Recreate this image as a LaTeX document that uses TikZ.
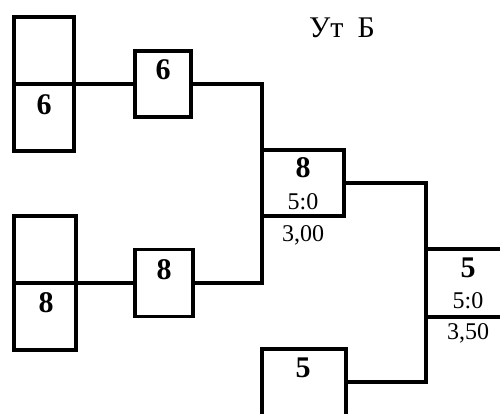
\documentclass[tikz,border=0pt]{standalone}
\usepackage{fontspec}
\setmainfont{Liberation Serif}
\begin{document}
\begin{tikzpicture}[x=1pt,y=-1pt,
  bx/.style={draw=black, line width=3.5pt, rectangle, inner sep=0pt, outer sep=0pt},
  ln/.style={draw=black, line width=3.5pt, line cap=rect},
  big/.style={font=\fontsize{30}{30}\selectfont\bfseries, inner sep=0pt},
  sml/.style={font=\fontsize{24}{24}\selectfont, inner sep=0pt},
  ttl/.style={font=\fontsize{30}{30}\selectfont, inner sep=0pt}]
\useasboundingbox (0,0) rectangle (500,414);
\clip (0,0) rectangle (500,414);
\fill[white] (0,0) rectangle (500,414);
% boxes
\node[bx, minimum width=60pt, minimum height=134pt] (A) at (44,84) {};
\node[bx, minimum width=56pt, minimum height=66pt] (B) at (163,84) {};
\node[bx, minimum width=82pt, minimum height=66pt] (C) at (303,183) {};
\node[bx, minimum width=62pt, minimum height=134pt] (D) at (45,283) {};
\node[bx, minimum width=58pt, minimum height=67pt] (E) at (164,283) {};
\node[bx, minimum width=84pt, minimum height=91pt] (F) at (304,394.5) {};
\node[bx, minimum width=114pt, minimum height=68pt] (G) at (483,283) {};
% dividers
\draw[ln] (A.west) -- (A.east);
\draw[ln] (D.west) -- (D.east);
% connectors
\coordinate (fj) at (346,382);
\draw[ln] (A.east) -- (B.west);
\draw[ln] (D.east) -- (E.west);
\draw[ln] (B.east) -| (C.west |- E.east) -- (E.east);
\draw[ln] (C.east) -| (G.west |- fj) -- (fj);
% labels
\node[ttl] (t) at (342,28) {Ут\hspace{14pt}Б};
\node[big] (la) at (44,105) {6};
\node[big] (lb) at (163,70) {6};
\node[big] (ld) at (46,303) {8};
\node[big] (le) at (164,270) {8};
\node[big] (lc) at (303,168) {8};
\node[sml] (lc2) at (303,202) {5:0};
\node[sml] (lc3) at (303,235) {3,00};
\node[big] (lg) at (468,268) {5};
\node[sml] (lg2) at (468,301) {5:0};
\node[sml] (lg3) at (468,333) {3,50};
\node[big] (lf) at (303,368) {5};
\end{tikzpicture}
\end{document}
